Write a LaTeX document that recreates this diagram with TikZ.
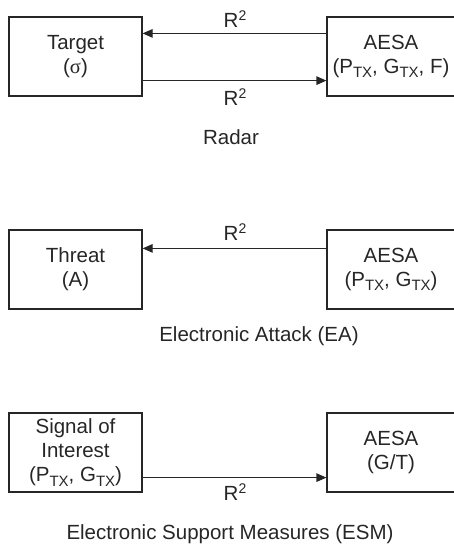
\documentclass[tikz,border=0pt]{standalone}
\usepackage{fontspec}
\setmainfont{Liberation Sans}
\newfontfamily\sigfont{Liberation Serif}
\usetikzlibrary{arrows.meta}
\definecolor{ink}{HTML}{262626}
\newcommand{\sbTX}{\raisebox{-4.5pt}{\fontsize{15}{15}\selectfont TX}}
\newcommand{\spTwo}{\raisebox{7.5pt}{\fontsize{14}{14}\selectfont 2}}
\tikzset{
  box/.style={draw=ink, line width=1.2pt, minimum width=133pt, minimum height=79pt, inner sep=0pt, align=center, text=ink, font=\fontsize{20.5}{24}\selectfont},
  rbox/.style={box, minimum width=128pt},
  lbl/.style={inner sep=0pt, text=ink, font=\fontsize{20.5}{24}\selectfont},
  arr/.style={draw=ink, line width=1.2pt, -{Triangle[length=10pt,width=8.5pt]}}
}
\begin{document}
\begin{tikzpicture}[x=1pt,y=-1pt]
\useasboundingbox (0,0) rectangle (454,546);
\clip (0,0) rectangle (454,546);
% Radar
\node[box] (tgt) at (75.5,56.5) {Target\\({\sigfont σ})};
\node[rbox] (aesa1) at (391,56.5) {AESA\\(P\sbTX, G\sbTX, F)};
\draw[arr] ([yshift=-17pt]aesa1.north west) -- ([yshift=-17pt]tgt.north east);
\draw[arr] ([yshift=16pt]tgt.south east) -- ([yshift=16pt]aesa1.south west);
\node[lbl] (r1) at (235,19) {R\spTwo};
\node[lbl] (r2) at (235,97) {R\spTwo};
\node[lbl] (cap1) at (231,137) {Radar};
% EA
\node[box] (thr) at (75.5,269.5) {Threat\\(A)};
\node[rbox] (aesa2) at (391,269.5) {AESA\\(P\sbTX, G\sbTX)};
\draw[arr] ([yshift=-19pt]aesa2.north west) -- ([yshift=-19pt]thr.north east);
\node[lbl] (r3) at (235,232) {R\spTwo};
\node[lbl] (cap2) at (259,336) {Electronic Attack (EA)};
% ESM
\node[box] (soi) at (75.5,452.5) {Signal of\\Interest\\(P\sbTX, G\sbTX)};
\node[rbox] (aesa3) at (391,452.5) {AESA\\(G/T)};
\draw[arr] ([yshift=15pt]soi.south east) -- ([yshift=15pt]aesa3.south west);
\node[lbl] (r4) at (235,492) {R\spTwo};
\node[lbl] (cap3) at (230,534) {Electronic Support Measures (ESM)};
\end{tikzpicture}
\end{document}
